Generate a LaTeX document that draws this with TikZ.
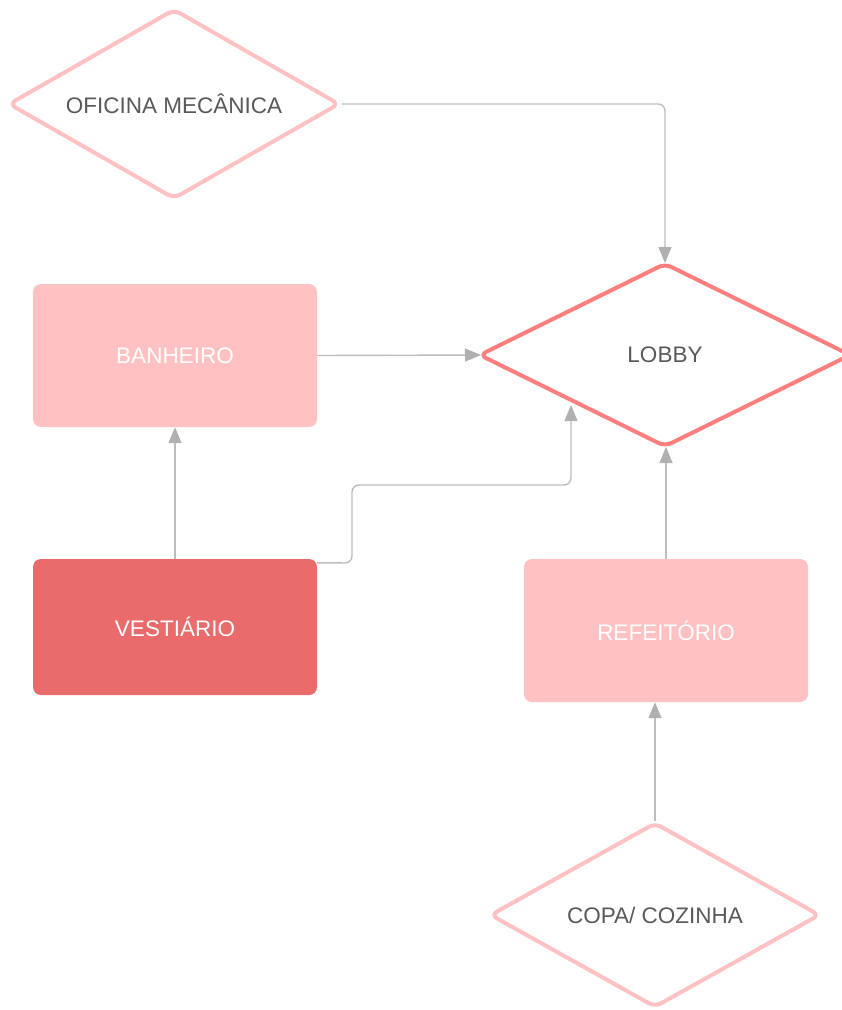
\documentclass[tikz,border=0pt]{standalone}
\usepackage{fontspec}
\setmainfont{Liberation Sans}
\usetikzlibrary{shapes.geometric,arrows.meta}
\definecolor{pinklight}{HTML}{FFC1C1}
\definecolor{pinkdark}{HTML}{EA6B6B}
\definecolor{lobbyred}{HTML}{FF7F7F}
\definecolor{txtgray}{HTML}{595959}
\definecolor{linegray}{HTML}{BDBDBD}
\definecolor{tipgray}{HTML}{B0B0B0}
\tikzset{
  lbl/.style={font=\fontsize{22.5}{26}\selectfont},
  boxlight/.style={rectangle, rounded corners=8pt, fill=pinklight, draw=none, minimum width=284pt, minimum height=143pt, text=white, lbl},
  boxdark/.style={rectangle, rounded corners=8pt, fill=pinkdark, draw=none, minimum width=284pt, minimum height=136pt, text=white, lbl},
  dia/.style={diamond, draw=pinklight, line width=4pt, rounded corners=7pt, fill=white, text=txtgray, lbl, inner sep=0pt, shape aspect=1.8},
  conn/.style={draw=linegray, line width=1.4pt, rounded corners=7pt, -{Triangle[length=16pt,width=13pt,fill=tipgray,color=tipgray]}},
}
\begin{document}
\begin{tikzpicture}[x=1pt,y=-1pt]
\useasboundingbox (0,0) rectangle (842,1010);
% nodes
\node[dia, minimum width=331pt, minimum height=190pt] (ofi) at (174,104) {OFICINA MECÂNICA};
\node[dia, draw=lobbyred, minimum width=372pt, minimum height=184pt, shape aspect=2] (lobby) at (665,355) {LOBBY};
\node[boxlight] (ban) at (175,355.5) {BANHEIRO};
\node[boxdark] (vest) at (175,627) {VESTIÁRIO};
\node[boxlight] (ref) at (666,630.5) {REFEITÓRIO};
\node[dia, minimum width=330pt, minimum height=185pt] (copa) at (655,915) {COPA/ COZINHA};
% connectors
\draw[conn] (ofi.east) -| ([yshift=-2pt]lobby.north);
\draw[conn] (ban.east) -- ([xshift=4pt]lobby.west);
\draw[conn] (vest.north) -- (ban.south);
\coordinate (vs) at ([yshift=-4pt]vest.north east);
\draw[conn] (vs) -- (352,563) -- (352,485) -| ([yshift=-3pt]lobby.south west);
\draw[conn] (ref.north) -- ([xshift=1pt,yshift=2pt]lobby.south);
\draw[conn] (copa.north) -- (copa.north |- ref.south);
\end{tikzpicture}
\end{document}
